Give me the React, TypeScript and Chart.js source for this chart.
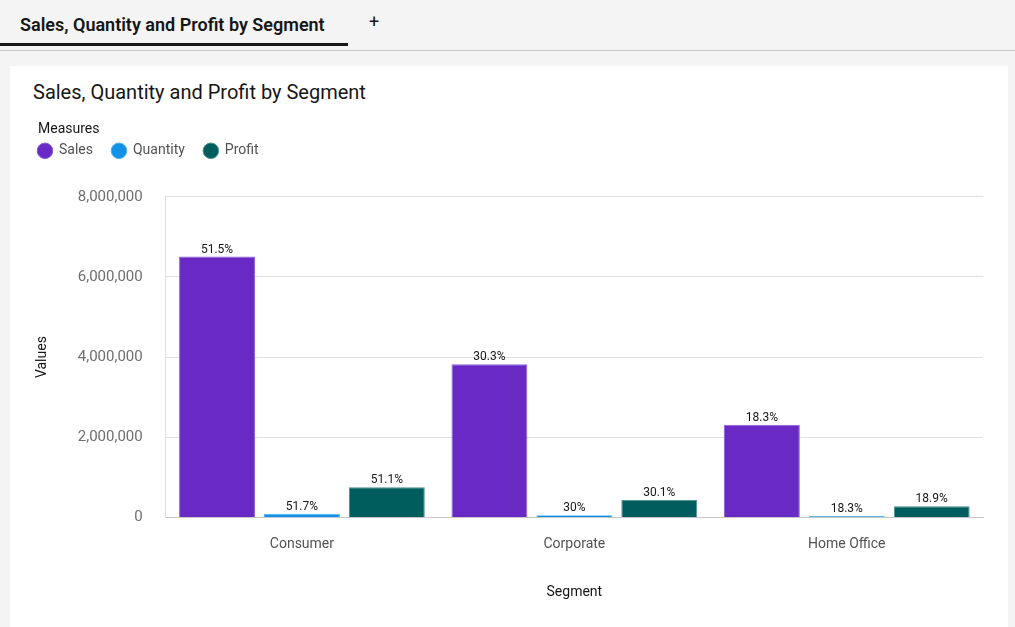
import React, { useEffect, useRef } from "react";
import { Chart, registerables } from "chart.js";

Chart.register(...registerables);

const segments = ["Consumer", "Corporate", "Home Office"];
const salesValues = [6507949, 3824698, 2309855];
const quantityValues = [92157, 53565, 32590];
const profitValues = [749240, 441209, 277009];
const yTicks = [0, 2000000, 4000000, 6000000, 8000000];
const legendTitle = "Measures";

const FONT = "Roboto, 'Noto Sans', sans-serif";
const LEGEND_PAD = 19;

function shareLabels(values: number[]): string[] {
  const total = values.reduce((a, b) => a + b, 0);
  return values.map((v) => `${Number(((v / total) * 100).toFixed(1))}%`);
}

const barLabelsPlugin = {
  id: "barLabels",
  afterDatasetsDraw(chart: any) {
    const ctx = chart.ctx;
    ctx.save();
    ctx.font = `12px ${FONT}`;
    ctx.fillStyle = "#161616";
    ctx.textAlign = "center";
    ctx.textBaseline = "bottom";
    chart.data.datasets.forEach((ds: any, i: number) => {
      const meta = chart.getDatasetMeta(i);
      if (meta.hidden) return;
      const labels = shareLabels(ds.data as number[]);
      meta.data.forEach((bar: any, j: number) => {
        ctx.fillText(labels[j], bar.x, bar.y - 1);
      });
    });
    ctx.restore();
  },
};

const legendTweaksPlugin = {
  id: "legendTweaks",
  beforeInit(chart: any) {
    const legend = chart.legend;
    if (!legend) return;
    const origFit = legend.fit;
    legend.fit = function () {
      origFit.call(legend);
      this.height += 29;
    };
  },
  afterDraw(chart: any) {
    const lg = chart.legend;
    if (!lg) return;
    const ctx = chart.ctx;
    ctx.save();
    ctx.font = `14px ${FONT}`;
    ctx.fillStyle = "#161616";
    ctx.textAlign = "left";
    ctx.textBaseline = "middle";
    ctx.fillText(legendTitle, lg.left + LEGEND_PAD, lg.top + 8.4);
    ctx.restore();
  },
};

export default function App() {
  const canvasRef = useRef<HTMLCanvasElement | null>(null);

  useEffect(() => {
    if (!canvasRef.current) return;
    const common = {
      categoryPercentage: 0.935,
      barPercentage: 0.894,
      borderWidth: 1,
    };
    const chart = new Chart(canvasRef.current, {
      type: "bar",
      data: {
        labels: segments,
        datasets: [
          { label: "Sales", data: salesValues, backgroundColor: "#6929c4", borderColor: "#8c5fd6", ...common },
          { label: "Quantity", data: quantityValues, backgroundColor: "#1192e8", borderColor: "#4fb0f0", ...common },
          { label: "Profit", data: profitValues, backgroundColor: "#005d5d", borderColor: "#4d8f8f", ...common },
        ],
      },
      options: {
        animation: false,
        responsive: false,
        maintainAspectRatio: false,
        layout: { padding: { left: 9, right: 25, top: 11, bottom: 26 } },
        plugins: {
          tooltip: { enabled: false },
          title: { display: false },
          legend: {
            display: true,
            position: "top",
            align: "start",
            title: {
              display: true,
              text: legendTitle,
              position: "start",
              color: "rgba(0,0,0,0)",
              font: { family: FONT, size: 14 },
              padding: { top: 0, bottom: -13 },
            },
            labels: {
              usePointStyle: true,
              pointStyle: "circle",
              boxWidth: 14,
              boxHeight: 11,
              padding: LEGEND_PAD,
              color: "#525252",
              font: { family: FONT, size: 14 },
            },
          },
        },
        scales: {
          x: {
            grid: { display: false, drawTicks: false },
            border: { display: true, color: "#c6c6c6" },
            ticks: { color: "#525252", font: { family: FONT, size: 14 }, padding: 19 },
            title: {
              display: true,
              text: "Segment",
              color: "#161616",
              font: { family: FONT, size: 14 },
              padding: { top: 12, bottom: 0 },
            },
          },
          y: {
            min: 0,
            max: 8000000,
            afterBuildTicks: (axis: any) => {
              axis.ticks = yTicks.map((v) => ({ value: v }));
            },
            grid: { color: "#e0e0e0", drawTicks: false },
            border: { display: true, color: "#e0e0e0" },
            ticks: {
              color: "#6f6f6f",
              font: { family: FONT, size: 15 },
              padding: 23,
              callback: (v: any) => Number(v).toLocaleString("en-US"),
            },
            title: {
              display: true,
              text: "Values",
              color: "#161616",
              font: { family: FONT, size: 14 },
              padding: { top: 15, bottom: 4 },
            },
          },
        },
      },
      plugins: [barLabelsPlugin, legendTweaksPlugin],
    });
    return () => chart.destroy();
  }, []);

  return (
    <div style={{ position: "fixed", inset: 0, background: "#f4f4f4", fontFamily: FONT, overflow: "hidden" }}>
      <div style={{ position: "absolute", left: 0, top: 0, width: 1015, height: 50, borderBottom: "1px solid #c6c6c6" }}>
        <div style={{ position: "absolute", left: 20, top: 14, fontSize: 18, fontWeight: 600, color: "#161616", whiteSpace: "nowrap" }}>
          Sales, Quantity and Profit by Segment
        </div>
        <div style={{ position: "absolute", left: 0, top: 43, width: 348, height: 3, background: "#161616" }} />
        <div style={{ position: "absolute", left: 369, top: 11, fontSize: 18, color: "#161616" }}>+</div>
      </div>
      <div style={{ position: "absolute", left: 10, top: 66, width: 998, height: 561, background: "#ffffff" }}>
        <div style={{ position: "absolute", left: 23, top: 14, fontSize: 20, fontWeight: 400, color: "#161616", whiteSpace: "nowrap" }}>
          Sales, Quantity and Profit by Segment
        </div>
        <canvas ref={canvasRef} width={998} height={517} style={{ position: "absolute", left: 0, top: 44, width: 998, height: 517 }} />
      </div>
    </div>
  );
}
